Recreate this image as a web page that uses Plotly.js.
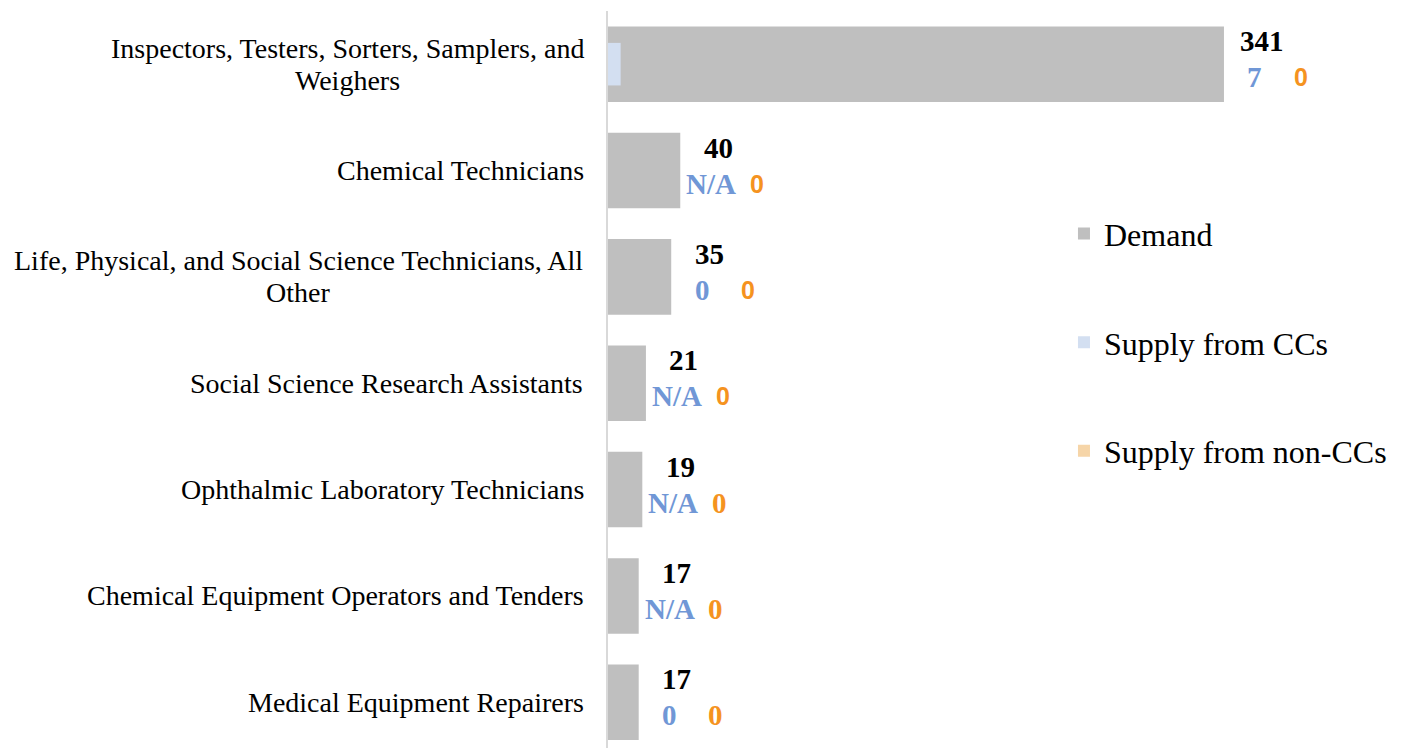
<!DOCTYPE html>
<html>
<head>
<meta charset="utf-8">
<script src="https://cdn.plot.ly/plotly-3.0.1.min.js"></script>
<style>html,body{margin:0;padding:0;background:#fff;}#chart{width:1401px;height:748px;}</style>
</head>
<body>
<div id="chart"></div>
<script>
const categories = [
  "Inspectors, Testers, Sorters, Samplers, and<br>Weighers",
  "Chemical Technicians",
  "Life, Physical, and Social Science Technicians, All<br>Other",
  "Social Science Research Assistants",
  "Ophthalmic Laboratory Technicians",
  "Chemical Equipment Operators and Tenders",
  "Medical Equipment Repairers"
];
const demand = [341, 40, 35, 21, 19, 17, 17];
const supplyCC = [7, null, 0, null, null, null, 0];
const supplyNonCC = [0, 0, 0, 0, 0, 0, 0];
const seriesNames = ["Demand", "Supply from CCs", "Supply from non-CCs"];

const serif = '"Liberation Serif", "Times New Roman", serif';
const sans = '"Liberation Sans", Arial, sans-serif';
const yIdx = categories.map((c, i) => i);

const cv = document.createElement('canvas').getContext('2d');
cv.font = '28px "Liberation Serif", "Times New Roman", serif';
function textW(s) { return cv.measureText(s).width; }

const traces = [
  {type:'bar', orientation:'h', name:seriesNames[0], x:demand, y:yIdx, width:0.71,
   marker:{color:'#bfbfbf'}, legendgroup:'a', hoverinfo:'skip'},
  {type:'bar', orientation:'h', name:seriesNames[1], x:supplyCC, y:yIdx, width:0.40,
   marker:{color:'#d3dff1'}, legendgroup:'b', hoverinfo:'skip'},
  {type:'bar', orientation:'h', name:seriesNames[2], x:supplyNonCC, y:yIdx, width:0.40,
   marker:{color:'#f6d5a8'}, legendgroup:'c', hoverinfo:'skip'}
];

const labelGap = -24;
const annotations = [];
categories.forEach((c, i) => {
  const lines = c.split('<br>');
  const maxW = Math.max.apply(null, lines.map(textW));
  lines.forEach((ln, k) => {
    const off = (lines.length - 1) / 2 - k;
    annotations.push({xref:'paper', x:0, y:i, yref:'y', text:ln, showarrow:false,
      xanchor:'center', yanchor:'middle', align:'center',
      xshift: labelGap - maxW / 2, yshift: off * 32,
      font:{family:serif, size:28, color:'#000'}});
  });
  annotations.push({x:demand[i], y:i, text:String(demand[i]), showarrow:false,
    xanchor:'center', yanchor:'middle', xshift:38, yshift:23,
    font:{family:serif, size:29, color:'#000', weight:'bold'}});
  annotations.push({x:demand[i], y:i, text: supplyCC[i] === null ? 'N/A' : String(supplyCC[i]),
    showarrow:false, xanchor:'center', yanchor:'middle', xshift:31, yshift:-13,
    font:{family:serif, size:29, color:'#7097d6', weight:'bold'}});
  annotations.push({x:demand[i], y:i, text:String(supplyNonCC[i]), showarrow:false,
    xanchor:'center', yanchor:'middle', xshift:77, yshift:-13,
    font:{family: i < 4 ? sans : serif, size: i < 4 ? 25 : 29, color:'#f5931f', weight:'bold'}});
});

const layout = {
  width:1401, height:748,
  margin:{l:608, r:0, t:11, b:0, pad:0},
  paper_bgcolor:'#fff', plot_bgcolor:'#fff',
  barmode:'overlay',
  showlegend:true,
  legend:{xref:'paper', yref:'paper', x:0.575, y:0.735, xanchor:'left', yanchor:'top',
    traceorder:'grouped', tracegroupgap:64, bgcolor:'rgba(0,0,0,0)',
    font:{family:serif, size:32, color:'#000'}, itemwidth:30},
  xaxis:{range:[0, 439], autorange:false, showgrid:false, zeroline:false, showticklabels:false, showline:false, fixedrange:true},
  yaxis:{range:[6.43, -0.5], autorange:false, showgrid:false, zeroline:false, showticklabels:false,
    showline:true, linecolor:'#d9d9d9', linewidth:2, ticks:'', fixedrange:true},
  annotations:annotations,
  font:{family:serif}
};

Plotly.newPlot('chart', traces, layout, {displayModeBar:false, staticPlot:true});
</script>
</body>
</html>
